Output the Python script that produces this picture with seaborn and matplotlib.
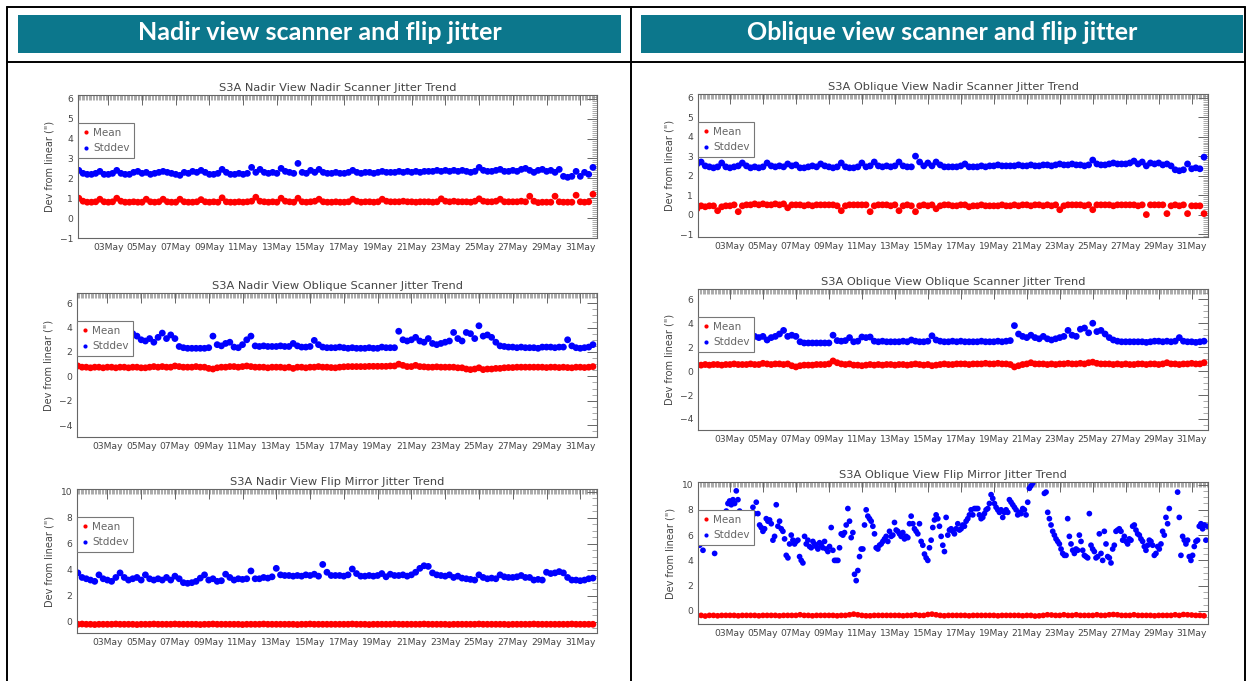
import matplotlib
matplotlib.use("Agg")
import matplotlib.pyplot as plt
import matplotlib.dates as mdates
from matplotlib.lines import Line2D
from matplotlib.patches import Rectangle
from matplotlib.ticker import MultipleLocator
import numpy as np
import pandas as pd
import seaborn as sns

W, H = 1250, 681
MONTH_START = pd.Timestamp("2017-05-01")

# day-of-month sample times: 4 per day for the regular series
SAMPLE_DAYS = 1 + 0.25 * np.arange(124)
# oblique flip mirror stddev is sampled more densely
FLIP_DAYS = 1.16 + 0.101 * np.arange(306)

HEADERS = ["Nadir view scanner and flip jitter", "Oblique view scanner and flip jitter"]
TITLES = [
    "S3A Nadir View Nadir Scanner Jitter Trend",
    "S3A Nadir View Oblique Scanner Jitter Trend",
    "S3A Nadir View Flip Mirror Jitter Trend",
    "S3A Oblique View Nadir Scanner Jitter Trend",
    "S3A Oblique View Oblique Scanner Jitter Trend",
    "S3A Oblique View Flip Mirror Jitter Trend",
]

NADIR_NADSCAN_STD = [
    2.35, 2.4, 2.25, 2.2, 2.2, 2.25, 2.35, 2.2, 2.2, 2.25, 2.4, 2.25,
    2.2, 2.2, 2.3, 2.35, 2.25, 2.3, 2.2, 2.25, 2.3, 2.35, 2.3, 2.25,
    2.2, 2.15, 2.3, 2.25, 2.35, 2.3, 2.4, 2.3, 2.2, 2.2, 2.25, 2.45,
    2.3, 2.2, 2.2, 2.25, 2.2, 2.25, 2.55, 2.3, 2.45, 2.3, 2.25, 2.3,
    2.25, 2.5, 2.35, 2.3, 2.25, 2.75, 2.3, 2.25, 2.4, 2.3, 2.45, 2.3,
    2.25, 2.25, 2.3, 2.25, 2.25, 2.3, 2.4, 2.3, 2.25, 2.3, 2.3, 2.25,
    2.3, 2.35, 2.3, 2.3, 2.3, 2.35, 2.3, 2.35, 2.3, 2.35, 2.3, 2.35,
    2.35, 2.35, 2.4, 2.35, 2.4, 2.35, 2.4, 2.35, 2.4, 2.35, 2.3, 2.35,
    2.55, 2.4, 2.35, 2.35, 2.4, 2.45, 2.35, 2.35, 2.4, 2.35, 2.45, 2.5,
    2.4, 2.3, 2.4, 2.45, 2.35, 2.4, 2.3, 2.45, 2.1, 2.05, 2.1, 2.35,
    2.1, 2.3, 2.2, 2.55,
]
NADIR_NADSCAN_MEAN = [
    0.95, 1.0, 0.85, 0.8, 0.8, 0.82, 0.95, 0.82, 0.8, 0.82, 1.0, 0.85,
    0.8, 0.8, 0.82, 0.8, 0.8, 0.95, 0.82, 0.8, 0.82, 0.95, 0.82, 0.8,
    0.8, 0.95, 0.82, 0.8, 0.8, 0.82, 0.93, 0.82, 0.8, 0.82, 0.8, 1.02,
    0.82, 0.8, 0.8, 0.82, 0.8, 0.82, 0.85, 1.05, 0.85, 0.82, 0.8, 0.82,
    0.8, 1.0, 0.85, 0.82, 0.8, 1.0, 0.82, 0.8, 0.82, 0.85, 0.95, 0.82,
    0.8, 0.8, 0.82, 0.8, 0.8, 0.82, 0.95, 0.85, 0.8, 0.82, 0.82, 0.8,
    0.82, 0.95, 0.85, 0.82, 0.82, 0.82, 0.85, 0.82, 0.82, 0.8, 0.82, 0.82,
    0.82, 0.8, 0.82, 0.97, 0.85, 0.82, 0.85, 0.82, 0.82, 0.82, 0.8, 0.85,
    0.97, 0.85, 0.82, 0.82, 0.85, 0.95, 0.82, 0.82, 0.82, 0.82, 0.85, 0.82,
    1.1, 0.85, 0.78, 0.8, 0.8, 0.8, 1.1, 0.82, 0.8, 0.8, 0.8, 1.15,
    0.82, 0.8, 0.82, 1.2,
]

NADIR_OBLSCAN_STD = [
    2.9, 3.0, 2.9, 3.1, 3.0, 3.2, 3.0, 3.1, 2.9, 3.1, 3.0, 3.2,
    3.0, 3.1, 3.5, 3.3, 3.0, 2.9, 3.1, 2.8, 3.2, 3.55, 3.1, 3.4,
    3.1, 2.45, 2.35, 2.3, 2.3, 2.3, 2.3, 2.3, 2.35, 3.3, 2.6, 2.5,
    2.7, 2.8, 2.4, 2.35, 2.6, 3.0, 3.3, 2.5, 2.45, 2.5, 2.45, 2.45,
    2.45, 2.5, 2.45, 2.45, 2.7, 2.5, 2.4, 2.4, 2.45, 2.95, 2.6, 2.4,
    2.35, 2.35, 2.35, 2.4, 2.35, 2.3, 2.35, 2.3, 2.3, 2.3, 2.35, 2.3,
    2.3, 2.4, 2.35, 2.35, 2.35, 3.7, 3.0, 2.9, 3.0, 3.2, 2.9, 2.8,
    3.1, 2.7, 2.6, 2.7, 2.8, 2.9, 3.6, 3.1, 2.9, 3.6, 3.5, 3.1,
    4.15, 3.3, 3.4, 3.2, 2.8, 2.5, 2.45, 2.4, 2.4, 2.35, 2.4, 2.35,
    2.35, 2.35, 2.3, 2.4, 2.4, 2.4, 2.35, 2.4, 2.4, 3.0, 2.5, 2.35,
    2.3, 2.35, 2.4, 2.6,
]
NADIR_OBLSCAN_MEAN = [
    0.8, 0.85, 0.75, 0.75, 0.7, 0.75, 0.75, 0.7, 0.75, 0.75, 0.7, 0.75,
    0.75, 0.7, 0.75, 0.75, 0.7, 0.7, 0.75, 0.8, 0.75, 0.8, 0.75, 0.75,
    0.85, 0.8, 0.75, 0.75, 0.75, 0.8, 0.75, 0.75, 0.65, 0.6, 0.7, 0.75,
    0.75, 0.8, 0.8, 0.75, 0.8, 0.85, 0.8, 0.75, 0.75, 0.75, 0.7, 0.75,
    0.75, 0.75, 0.7, 0.75, 0.65, 0.75, 0.75, 0.7, 0.75, 0.75, 0.8, 0.75,
    0.75, 0.72, 0.7, 0.75, 0.78, 0.8, 0.8, 0.8, 0.8, 0.8, 0.82, 0.82,
    0.82, 0.82, 0.82, 0.85, 0.85, 1.0, 0.9, 0.8, 0.8, 0.9, 0.8, 0.78,
    0.75, 0.75, 0.78, 0.75, 0.75, 0.75, 0.75, 0.7, 0.7, 0.6, 0.55, 0.6,
    0.7, 0.55, 0.6, 0.6, 0.65, 0.65, 0.7, 0.72, 0.72, 0.75, 0.75, 0.75,
    0.75, 0.75, 0.75, 0.75, 0.72, 0.75, 0.75, 0.72, 0.75, 0.72, 0.7, 0.75,
    0.75, 0.72, 0.75, 0.8,
]

NADIR_FLIP_STD = [
    3.8, 3.75, 3.4, 3.3, 3.2, 3.1, 3.6, 3.3, 3.2, 3.1, 3.4, 3.75,
    3.4, 3.2, 3.3, 3.4, 3.2, 3.6, 3.3, 3.2, 3.3, 3.2, 3.4, 3.2,
    3.5, 3.3, 3.0, 2.95, 3.0, 3.1, 3.35, 3.6, 3.2, 3.3, 3.1, 3.15,
    3.65, 3.4, 3.2, 3.3, 3.25, 3.3, 3.9, 3.3, 3.3, 3.4, 3.35, 3.45,
    4.1, 3.6, 3.55, 3.55, 3.5, 3.55, 3.5, 3.6, 3.55, 3.65, 3.5, 4.4,
    3.8, 3.55, 3.55, 3.55, 3.5, 3.6, 4.05, 3.7, 3.5, 3.5, 3.55, 3.5,
    3.55, 3.7, 3.45, 3.65, 3.55, 3.55, 3.6, 3.5, 3.6, 3.8, 4.1, 4.3,
    4.25, 3.75, 3.6, 3.55, 3.5, 3.6, 3.4, 3.5, 3.35, 3.3, 3.25, 3.2,
    3.6, 3.4, 3.3, 3.35, 3.3, 3.6, 3.45, 3.4, 3.4, 3.45, 3.55, 3.4,
    3.4, 3.2, 3.25, 3.2, 3.8, 3.7, 3.75, 3.85, 3.75, 3.4, 3.2, 3.2,
    3.15, 3.2, 3.3, 3.35,
]
NADIR_FLIP_MEAN = [
    -0.2, -0.2, -0.18, -0.2, -0.2, -0.22, -0.2, -0.2, -0.2, -0.2, -0.18, -0.2,
    -0.2, -0.2, -0.2, -0.22, -0.2, -0.2, -0.2, -0.18, -0.2, -0.2, -0.2, -0.2,
    -0.18, -0.2, -0.2, -0.2, -0.2, -0.2, -0.22, -0.2, -0.2, -0.18, -0.2, -0.2,
    -0.2, -0.2, -0.2, -0.2, -0.22, -0.2, -0.2, -0.2, -0.2, -0.18, -0.2, -0.2,
    -0.2, -0.2, -0.2, -0.2, -0.2, -0.22, -0.2, -0.2, -0.18, -0.2, -0.2, -0.2,
    -0.2, -0.2, -0.2, -0.2, -0.2, -0.2, -0.18, -0.2, -0.2, -0.2, -0.22, -0.2,
    -0.2, -0.2, -0.2, -0.2, -0.18, -0.2, -0.2, -0.2, -0.2, -0.2, -0.2, -0.18,
    -0.2, -0.2, -0.2, -0.2, -0.2, -0.22, -0.2, -0.2, -0.2, -0.2, -0.2, -0.2,
    -0.18, -0.2, -0.2, -0.2, -0.2, -0.2, -0.2, -0.22, -0.2, -0.2, -0.2, -0.2,
    -0.2, -0.18, -0.2, -0.2, -0.2, -0.2, -0.2, -0.2, -0.2, -0.2, -0.18, -0.2,
    -0.2, -0.2, -0.2, -0.2,
]

OBL_NADSCAN_STD = [
    2.6, 2.7, 2.5, 2.45, 2.4, 2.45, 2.65, 2.45, 2.4, 2.45, 2.5, 2.65,
    2.5, 2.4, 2.45, 2.4, 2.45, 2.65, 2.5, 2.45, 2.5, 2.45, 2.6, 2.5,
    2.55, 2.4, 2.4, 2.45, 2.5, 2.45, 2.6, 2.5, 2.45, 2.4, 2.45, 2.65,
    2.45, 2.4, 2.4, 2.45, 2.65, 2.45, 2.5, 2.7, 2.5, 2.45, 2.5, 2.45,
    2.5, 2.7, 2.5, 2.45, 2.45, 3.0, 2.7, 2.5, 2.65, 2.5, 2.7, 2.55,
    2.45, 2.45, 2.45, 2.45, 2.5, 2.6, 2.45, 2.45, 2.45, 2.5, 2.45, 2.5,
    2.5, 2.55, 2.5, 2.5, 2.5, 2.5, 2.55, 2.5, 2.5, 2.55, 2.5, 2.5,
    2.55, 2.55, 2.5, 2.55, 2.6, 2.55, 2.55, 2.6, 2.55, 2.55, 2.5, 2.55,
    2.8, 2.6, 2.55, 2.55, 2.6, 2.65, 2.6, 2.6, 2.6, 2.65, 2.75, 2.6,
    2.7, 2.5, 2.65, 2.6, 2.65, 2.55, 2.6, 2.5, 2.3, 2.25, 2.3, 2.6,
    2.35, 2.4, 2.35, 2.95,
]
OBL_NADSCAN_MEAN = [
    0.3, 0.45, 0.4, 0.45, 0.45, 0.2, 0.4, 0.45, 0.45, 0.5, 0.15, 0.45,
    0.5, 0.5, 0.55, 0.5, 0.55, 0.5, 0.5, 0.55, 0.5, 0.55, 0.35, 0.5,
    0.5, 0.5, 0.45, 0.5, 0.45, 0.5, 0.5, 0.5, 0.5, 0.5, 0.45, 0.2,
    0.45, 0.5, 0.5, 0.5, 0.5, 0.5, 0.15, 0.45, 0.5, 0.5, 0.5, 0.45,
    0.5, 0.2, 0.45, 0.5, 0.45, 0.15, 0.45, 0.5, 0.45, 0.5, 0.3, 0.45,
    0.5, 0.5, 0.45, 0.45, 0.5, 0.5, 0.4, 0.45, 0.45, 0.5, 0.45, 0.45,
    0.45, 0.45, 0.5, 0.45, 0.45, 0.5, 0.45, 0.5, 0.5, 0.45, 0.5, 0.5,
    0.45, 0.5, 0.45, 0.5, 0.25, 0.45, 0.5, 0.5, 0.5, 0.5, 0.45, 0.5,
    0.25, 0.5, 0.5, 0.5, 0.5, 0.45, 0.5, 0.5, 0.5, 0.5, 0.5, 0.45,
    0.5, 0.0, 0.5, 0.5, 0.5, 0.5, 0.05, 0.45, 0.5, 0.45, 0.5, 0.05,
    0.45, 0.45, 0.45, 0.05,
]

OBL_OBLSCAN_STD = [
    2.9, 3.0, 3.1, 2.9, 3.0, 3.1, 3.0, 3.2, 3.1, 3.0, 3.2, 3.1,
    3.0, 3.3, 2.9, 2.8, 2.9, 2.6, 2.8, 2.9, 3.1, 3.4, 2.9, 3.0,
    2.9, 2.45, 2.35, 2.35, 2.35, 2.35, 2.35, 2.35, 2.35, 3.0, 2.55, 2.5,
    2.55, 2.8, 2.45, 2.5, 2.85, 2.8, 2.85, 2.5, 2.45, 2.5, 2.45, 2.45,
    2.45, 2.45, 2.5, 2.45, 2.6, 2.5, 2.45, 2.45, 2.5, 2.95, 2.6, 2.5,
    2.45, 2.45, 2.5, 2.45, 2.5, 2.45, 2.45, 2.45, 2.45, 2.5, 2.45, 2.45,
    2.45, 2.5, 2.45, 2.5, 2.55, 3.8, 3.1, 2.9, 2.8, 3.0, 2.8, 2.7,
    2.9, 2.7, 2.6, 2.7, 2.8, 2.9, 3.4, 3.0, 2.9, 3.5, 3.6, 3.2,
    4.0, 3.3, 3.4, 3.1, 2.8, 2.6, 2.5, 2.45, 2.45, 2.45, 2.45, 2.45,
    2.45, 2.4, 2.45, 2.5, 2.5, 2.45, 2.5, 2.45, 2.5, 2.8, 2.5, 2.45,
    2.45, 2.4, 2.45, 2.5,
]
OBL_OBLSCAN_MEAN = [
    0.5, 0.5, 0.55, 0.5, 0.55, 0.55, 0.5, 0.55, 0.55, 0.6, 0.55, 0.55,
    0.55, 0.6, 0.55, 0.55, 0.65, 0.6, 0.55, 0.6, 0.6, 0.55, 0.6, 0.45,
    0.35, 0.45, 0.5, 0.5, 0.5, 0.55, 0.55, 0.55, 0.6, 0.85, 0.7, 0.6,
    0.55, 0.6, 0.5, 0.5, 0.45, 0.5, 0.55, 0.5, 0.55, 0.5, 0.55, 0.55,
    0.5, 0.55, 0.55, 0.5, 0.55, 0.6, 0.55, 0.5, 0.55, 0.45, 0.5, 0.55,
    0.6, 0.55, 0.55, 0.6, 0.6, 0.6, 0.55, 0.6, 0.6, 0.6, 0.65, 0.6,
    0.6, 0.65, 0.6, 0.6, 0.55, 0.35, 0.45, 0.55, 0.6, 0.7, 0.6, 0.6,
    0.6, 0.55, 0.6, 0.55, 0.6, 0.6, 0.65, 0.6, 0.6, 0.65, 0.6, 0.7,
    0.75, 0.65, 0.6, 0.6, 0.6, 0.55, 0.6, 0.55, 0.6, 0.55, 0.55, 0.6,
    0.6, 0.55, 0.6, 0.6, 0.55, 0.6, 0.7, 0.6, 0.6, 0.55, 0.6, 0.6,
    0.65, 0.6, 0.6, 0.7,
]

nan = np.nan
OBL_FLIP_STD = [
    5.2, nan, 4.8, nan, nan, nan, nan, nan, nan, 4.55,
    nan, nan, nan, nan, nan, nan, 7.9, 8.5, 8.7, 8.4,
    8.8, 8.5, 9.5, 8.8, 7.9, nan, 7.4, nan, 6.7, 6.0,
    5.4, 6.8, 8.2, 7.7, 8.6, 7.7, 6.8, 6.6, 6.3, 6.5,
    7.3, 7.1, 7.2, 6.9, 5.6, 5.9, 8.4, 6.7, 7.1, 6.5,
    6.3, 5.7, 4.4, 4.2, 5.3, 6.0, 5.6, 5.3, 5.5, 5.6,
    4.3, 4.0, 3.8, 5.9, 5.3, 5.6, 5.1, 5.0, 5.5, 5.3,
    5.1, 4.9, 5.4, 5.2, 5.0, 5.5, 4.9, 4.7, 5.1, 6.6,
    4.8, 4.0, 4.0, 4.0, 5.0, 6.1, 6.0, 6.2, 6.8, 8.1,
    7.1, 5.8, 6.2, 2.9, 2.4, 3.2, 4.3, 4.9, 4.9, 6.8,
    8.0, 7.5, 7.3, 7.1, 6.7, 6.1, 5.0, 4.9, 5.2, 5.3,
    5.5, 5.7, 5.9, 5.5, 6.3, 5.9, 6.0, 7.0, 6.4, 6.3,
    6.1, 5.9, 6.2, 5.7, 5.9, 5.8, 6.9, 7.5, 6.9, 6.5,
    6.3, 6.1, 6.9, 5.5, 5.2, 4.5, 4.2, 4.0, 5.0, 5.6,
    6.6, 7.2, 7.6, 7.3,
    6.7, 5.9, 5.2, 4.7, 7.4, 6.0, 6.4, 6.5, 6.3, 6.1,
    6.5, 6.9, 6.4, 6.5, 6.8, 6.7, 7.1, 7.3, 7.6, 8.0,
    7.6, 8.1, 8.1, 8.1, 7.6, 7.3, 7.4, 7.7, 8.0, 8.1,
    8.5, 9.2, 8.9, 8.5, 8.2, 8.0, 7.8, 8.0, 7.4, 7.8,
    8.0, 7.8, 8.8, 8.6, 8.4, 8.2, 8.0, 7.6, 7.8, 7.7,
    8.1, 8.0, 7.6, 8.6, 9.7, 9.9, 10.1, nan, nan, nan,
    nan, nan, nan, 9.3, 9.4, 7.8, 7.3, 6.8, 6.3, 6.0,
    5.7, 5.5, 5.3, 4.9, 4.55, 4.4, 4.4, 7.3, 5.9, 5.3,
    4.8, 4.55, 4.9, 4.8, 6.0, 5.5, 4.8, 4.4, 4.3, 4.2,
    7.7, 5.2, 4.9, 4.7, 4.2, 4.3, 6.1, 4.55, 4.0, 6.3,
    5.3, 4.3, 4.2, 3.8, 4.9, 5.2, 6.3, 6.4, 6.5, 6.3,
    5.6, 5.9, 5.5, 5.3, 5.7, 5.6, 6.7, 6.8, 6.4, 6.1,
    6.0, 5.7, 5.5, 5.1, 4.8, 5.2, 5.6, 5.5, 5.2, 4.4,
    4.55, 5.1, 4.9, 5.3, 6.3, 6.0, 7.4, 6.9, 8.1, nan,
    nan, nan, nan, 9.4, 7.4, 4.4, 5.9, 5.6, 5.3, 5.6,
    4.3, 4.0, 4.4, 5.1, 5.5, 5.6, 6.7, 6.9, 6.5, 6.8,
    5.6, 6.7,
]
OBL_FLIP_MEAN = [
    -0.35, -0.35, -0.4, -0.35, -0.35, -0.38, -0.35, -0.35, -0.35, -0.35, -0.38, -0.35,
    -0.35, -0.35, -0.35, -0.38, -0.35, -0.35, -0.35, -0.35, -0.38, -0.35, -0.35, -0.35,
    -0.35, -0.3, -0.35, -0.35, -0.38, -0.35, -0.35, -0.35, -0.35, -0.35, -0.38, -0.35,
    -0.35, -0.3, -0.25, -0.3, -0.35, -0.38, -0.38, -0.35, -0.35, -0.35, -0.35, -0.35,
    -0.35, -0.35, -0.38, -0.35, -0.35, -0.3, -0.35, -0.35, -0.28, -0.25, -0.3, -0.35,
    -0.38, -0.35, -0.35, -0.35, -0.35, -0.35, -0.38, -0.35, -0.35, -0.35, -0.35, -0.35,
    -0.35, -0.38, -0.35, -0.35, -0.35, -0.35, -0.35, -0.38, -0.35, -0.35, -0.4, -0.38,
    -0.35, -0.3, -0.32, -0.35, -0.35, -0.3, -0.35, -0.35, -0.3, -0.35, -0.35, -0.35,
    -0.35, -0.3, -0.35, -0.35, -0.3, -0.28, -0.3, -0.35, -0.35, -0.35, -0.3, -0.35,
    -0.35, -0.35, -0.35, -0.38, -0.35, -0.35, -0.35, -0.35, -0.3, -0.35, -0.28, -0.3,
    -0.32, -0.35, -0.35, -0.38,
]

TEAL = "#0c778c"
PALETTE = {"Mean": "#ff0000", "Stddev": "#0000ff"}
INK = "#444444"


def px_box(x0, y0, x1, y1):
    return [x0 / W, 1 - y1 / H, (x1 - x0) / W, (y1 - y0) / H]


def to_time(days):
    return MONTH_START + pd.to_timedelta(np.asarray(days) - 1, unit="D")


PANELS = [
    dict(box=(78, 95, 597, 238), title=TITLES[0], mean=NADIR_NADSCAN_MEAN, std=NADIR_NADSCAN_STD,
         std_days=SAMPLE_DAYS, ylim=(-1.0, 6.19), major=1, minor=0.1, x0=1.2, s=24),
    dict(box=(77, 293, 597, 437), title=TITLES[1], mean=NADIR_OBLSCAN_MEAN, std=NADIR_OBLSCAN_STD,
         std_days=SAMPLE_DAYS, ylim=(-4.98, 6.84), major=2, minor=0.5, x0=1.2, s=24),
    dict(box=(77, 489, 597, 633), title=TITLES[2], mean=NADIR_FLIP_MEAN, std=NADIR_FLIP_STD,
         std_days=SAMPLE_DAYS, ylim=(-0.87, 10.2), major=2, minor=0.5, x0=1.2, s=24),
    dict(box=(698, 94, 1208, 237), title=TITLES[3], mean=OBL_NADSCAN_MEAN, std=OBL_NADSCAN_STD,
         std_days=SAMPLE_DAYS, ylim=(-1.15, 6.19), major=1, minor=0.1, x0=1.06, s=24),
    dict(box=(698, 289, 1208, 430), title=TITLES[4], mean=OBL_OBLSCAN_MEAN, std=OBL_OBLSCAN_STD,
         std_days=SAMPLE_DAYS, ylim=(-4.92, 6.86), major=2, minor=0.5, x0=1.06, s=24),
    dict(box=(698, 482, 1208, 624), title=TITLES[5], mean=OBL_FLIP_MEAN, std=OBL_FLIP_STD,
         std_days=FLIP_DAYS, ylim=(-1.03, 10.2), major=2, minor=0.5, x0=1.06, s=17),
]

sns.set_style("white")
plt.rcParams["font.family"] = ["DejaVu Sans"]

fig = plt.figure(figsize=(W / 100, H / 100), dpi=100)
fig.patch.set_facecolor("white")

# table frame and header cells
for (x0, y0, x1, y1) in [(7, 7, 1245, 7), (7, 62, 1245, 62), (7, 7, 7, 681),
                         (631, 7, 631, 681), (1245, 7, 1245, 681)]:
    fig.add_artist(Line2D([x0 / W, x1 / W], [1 - y0 / H, 1 - y1 / H],
                          transform=fig.transFigure, color="black", lw=1.4))
for (x0, x1), text in zip([(18, 621), (641, 1243)], HEADERS):
    fig.add_artist(Rectangle((x0 / W, 1 - 52.5 / H), (x1 - x0) / W, 37.5 / H,
                             transform=fig.transFigure, color=TEAL, lw=0))
    fig.text((x0 + x1) / 2 / W, 1 - 33 / H, text, ha="center", va="center",
             color="white", fontsize=18, fontweight="bold", family=["Lato", "DejaVu Sans"])

for p in PANELS:
    ax = fig.add_axes(px_box(*p["box"]))
    df = pd.concat([
        pd.DataFrame({"time": to_time(SAMPLE_DAYS), "value": p["mean"], "series": "Mean"}),
        pd.DataFrame({"time": to_time(p["std_days"]), "value": p["std"], "series": "Stddev"}),
    ], ignore_index=True)
    sns.scatterplot(data=df, x="time", y="value", hue="series", palette=PALETTE,
                    s=p["s"], linewidth=0, legend=False, ax=ax)

    ax.set_xlim(to_time(p["x0"]), to_time(31.99))
    ax.set_ylim(*p["ylim"])
    ax.xaxis.set_major_locator(mdates.DayLocator(bymonthday=range(1, 32, 2)))
    ax.xaxis.set_minor_locator(mdates.HourLocator(byhour=range(0, 24, 2)))
    ax.xaxis.set_major_formatter(mdates.DateFormatter("%d%b"))
    ax.yaxis.set_major_locator(MultipleLocator(p["major"]))
    ax.yaxis.set_minor_locator(MultipleLocator(p["minor"]))
    ax.tick_params(which="both", direction="in", top=True, right=True,
                   color="#888888", labelsize=6.6, labelcolor=INK)
    ax.tick_params(which="major", length=7, width=0.7, color="#666666")
    ax.tick_params(which="minor", length=3.5, width=0.5)
    for sp in ax.spines.values():
        sp.set_color("#666666")
        sp.set_linewidth(0.8)

    ax.set_xlabel("")
    ax.set_ylabel('Dev from linear (")', fontsize=7, color=INK, labelpad=4)
    ax.set_title(p["title"], fontsize=8.2, color=INK, pad=3)

    h_px = p["box"][3] - p["box"][1]
    handles = [Line2D([], [], ls="", marker="o", ms=3, mew=0, color=PALETTE[k]) for k in PALETTE]
    leg = ax.legend(handles, list(PALETTE), loc="upper left", bbox_to_anchor=(0, 1 - 28 / h_px),
                    borderaxespad=0, frameon=True, fancybox=False, framealpha=1, fontsize=7.5,
                    handlelength=0.6, handletextpad=0.4, borderpad=0.45, labelspacing=0.55)
    leg.get_frame().set_edgecolor("#777777")
    leg.get_frame().set_linewidth(0.8)
    for t in leg.get_texts():
        t.set_color("#666666")

fig.savefig("out.png", dpi=100)
